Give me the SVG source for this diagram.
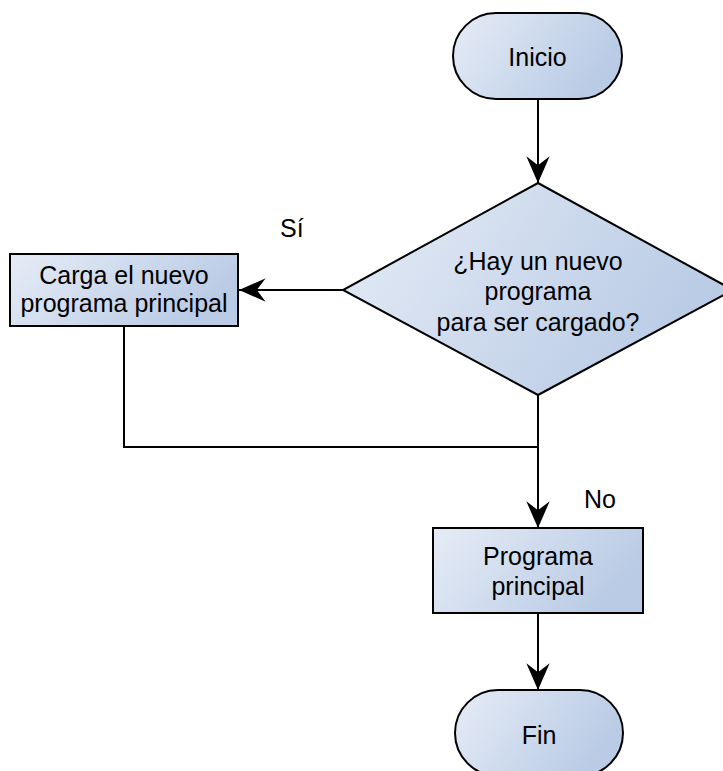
<svg xmlns="http://www.w3.org/2000/svg" width="723" height="771" viewBox="0 0 723 771">
  <defs>
    <linearGradient id="fillGrad" x1="0" y1="0" x2="1" y2="0.35">
      <stop offset="0" stop-color="#e6ecf6"/>
      <stop offset="1" stop-color="#b9cbe5"/>
    </linearGradient>
    <marker id="arrow" markerUnits="userSpaceOnUse" markerWidth="30" markerHeight="30" viewBox="-25 -12 27 24" refX="0" refY="0" orient="auto">
      <path d="M0,0 L-24,-10.5 L-16,0 L-24,10.5 Z" fill="#000"/>
    </marker>
    <style>
      .shape { fill: url(#fillGrad); stroke: #000; stroke-width: 2; }
      .edge { fill: none; stroke: #000; stroke-width: 2; }
      text { font-family: "Liberation Sans", Arial, sans-serif; font-size: 25px; fill: #000; }
      .c { text-anchor: middle; }
    </style>
  </defs>
  <rect width="723" height="771" fill="#fff"/>

  <g id="connectors">
    <path class="edge" d="M538,99 L538,183" marker-end="url(#arrow)"/>
    <path class="edge" d="M343,290 L239,290" marker-end="url(#arrow)"/>
    <path class="edge" d="M124,326 L124,447 L538,447"/>
    <path class="edge" d="M538,395 L538,528" marker-end="url(#arrow)"/>
    <path class="edge" d="M538,613 L538,690" marker-end="url(#arrow)"/>
  </g>

  <g id="inicio">
    <rect class="shape" x="453" y="13" width="169" height="86" rx="43" ry="43"/>
    <text class="c" x="537.5" y="66">Inicio</text>
  </g>

  <g id="decision">
    <polygon class="shape" points="538,183 733,290 538,395 343,290"/>
    <text class="c" x="538" y="270">¿Hay un nuevo</text>
    <text class="c" x="538" y="300">programa</text>
    <text class="c" x="538" y="331">para ser cargado?</text>
  </g>

  <g id="cargar">
    <rect class="shape" x="10" y="254" width="228" height="72"/>
    <text class="c" x="124" y="284">Carga el nuevo</text>
    <text class="c" x="124" y="312">programa principal</text>
  </g>

  <g id="programa">
    <rect class="shape" x="433" y="528" width="210" height="85"/>
    <text class="c" x="538" y="565">Programa</text>
    <text class="c" x="538" y="595">principal</text>
  </g>

  <g id="fin">
    <rect class="shape" x="455" y="690" width="168" height="86" rx="43" ry="43"/>
    <text class="c" x="539" y="744">Fin</text>
  </g>

  <g id="labels">
    <text x="280" y="237">Sí</text>
    <text x="584" y="508">No</text>
  </g>
</svg>
